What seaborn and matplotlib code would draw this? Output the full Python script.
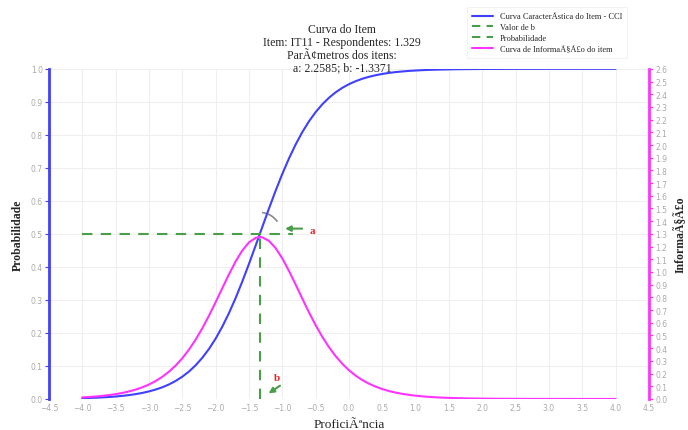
import numpy as np
import pandas as pd
import matplotlib
matplotlib.use("Agg")
import matplotlib.pyplot as plt
import seaborn as sns
from matplotlib.patches import Arc
from matplotlib.lines import Line2D

# item parameters shown in the title
a_param = 2.2585
b_param = -1.3371

# proficiency grid and values
theta = [-4.0, -3.9, -3.8, -3.7, -3.6, -3.5, -3.4, -3.3, -3.2, -3.1,
         -3.0, -2.9, -2.8, -2.7, -2.6, -2.5, -2.4, -2.3, -2.2, -2.1,
         -2.0, -1.9, -1.8, -1.7, -1.6, -1.5, -1.4, -1.3371, -1.3, -1.2,
         -1.1, -1.0, -0.9, -0.8, -0.7, -0.6, -0.5, -0.4, -0.3, -0.2,
         -0.1, 0.0, 0.1, 0.2, 0.3, 0.4, 0.5, 0.6, 0.7, 0.8,
         0.9, 1.0, 1.1, 1.2, 1.3, 1.4, 1.6, 1.8, 2.0, 2.2,
         2.4, 2.6, 2.8, 3.0, 3.2, 3.4, 3.6, 3.8, 4.0]
prob = [0.0024, 0.0031, 0.0038, 0.0048, 0.0060, 0.0075, 0.0094, 0.0117, 0.0147, 0.0183,
        0.0229, 0.0285, 0.0354, 0.0440, 0.0546, 0.0675, 0.0831, 0.1021, 0.1247, 0.1515,
        0.1828, 0.2190, 0.2601, 0.3058, 0.3558, 0.4091, 0.4645, 0.5000, 0.5209, 0.5768,
        0.6308, 0.6816, 0.7285, 0.7708, 0.8083, 0.8409, 0.8688, 0.8925, 0.9123, 0.9288,
        0.9424, 0.9535, 0.9625, 0.9699, 0.9758, 0.9806, 0.9845, 0.9876, 0.9901, 0.9920,
        0.9937, 0.9949, 0.9960, 0.9968, 0.9974, 0.9979, 0.9987, 0.9992, 0.9995, 0.9997,
        0.9998, 0.9999, 0.9999, 1.0, 1.0, 1.0, 1.0, 1.0, 1.0]
info = [0.0124, 0.0155, 0.0194, 0.0243, 0.0304, 0.0380, 0.0474, 0.0592, 0.0737, 0.0917,
        0.1139, 0.1411, 0.1744, 0.2147, 0.2631, 0.3209, 0.3887, 0.4674, 0.5568, 0.6556,
        0.7620, 0.8725, 0.9816, 1.0829, 1.1691, 1.2330, 1.2688, 1.2752, 1.2730, 1.2451,
        1.1880, 1.1070, 1.0088, 0.9012, 0.7904, 0.6824, 0.5813, 0.4894, 0.4080, 0.3373,
        0.2770, 0.2262, 0.1840, 0.1489, 0.1204, 0.0970, 0.0780, 0.0625, 0.0502, 0.0402,
        0.0322, 0.0259, 0.0206, 0.0165, 0.0131, 0.0105, 0.0067, 0.0043, 0.0027, 0.0017,
        0.0011, 0.0007, 0.0004, 0.0003, 0.0002, 0.0001, 0.0001, 0.0, 0.0]

df = pd.DataFrame({"theta": theta, "prob": prob, "info": info})

blue = "#4040ff"
magenta = "#ff33ff"
green = "#4a9e4a"
tick_grey = "#aaaaaa"
serif = "Liberation Serif"

sns.set_style("whitegrid", {"grid.color": "#efefef"})
plt.rcParams["font.family"] = ["DejaVu Sans"]

fig = plt.figure(figsize=(6.88, 4.31), dpi=100)
ax = fig.add_axes([0.0712, 0.072, 0.872, 0.766])
ax2 = ax.twinx()

sns.lineplot(data=df, x="theta", y="prob", ax=ax, color=blue, linewidth=1.5)
sns.lineplot(data=df, x="theta", y="info", ax=ax2, color=magenta, linewidth=1.5)

# reference lines for b and probability 0.5
ax.plot([-4.0, b_param + 0.5], [0.5, 0.5], color=green, linestyle=(0, (5, 4)), linewidth=1.5)
ax.plot([b_param, b_param], [0.0, 0.5], color=green, linestyle=(0, (5, 4)), linewidth=1.5)

# angle arc and labels
ax.add_patch(Arc((b_param, 0.5), 0.64, 0.13, theta1=8, theta2=62, color="#888888", linewidth=1.2))
ax.annotate("", xy=(-1.0, 0.516), xytext=(-0.66, 0.516),
            arrowprops=dict(arrowstyle="-|>", color=green, lw=1.5, mutation_scale=8))
ax.text(-0.59, 0.511, "a", color="#ee2222", fontsize=8, fontweight="bold", family=serif, va="center")
ax.annotate("", xy=(-1.24, 0.012), xytext=(-1.0, 0.045),
            arrowprops=dict(arrowstyle="-|>", color=green, lw=1.5, mutation_scale=8))
ax.text(-1.08, 0.065, "b", color="#ee2222", fontsize=8, fontweight="bold", family=serif, ha="center", va="center")

ax.set_xlim(-4.5, 4.5)
ax.set_ylim(0, 1)
ax2.set_ylim(0, 2.6)
ax.set_xticks(np.arange(-4.5, 4.51, 0.5))
ax.set_yticks(np.arange(0, 1.01, 0.1))
ax2.set_yticks(np.arange(0, 2.61, 0.1))
ax.set_xticklabels([f"{v:.1f}".replace("-", "\u2212") for v in np.arange(-4.5, 4.51, 0.5)])
ax.set_yticklabels([f"{v:.1f}" for v in np.arange(0, 1.01, 0.1)])
ax2.set_yticklabels([f"{v:.1f}" for v in np.arange(0, 2.61, 0.1)])
ax2.grid(False)

for spine in ["top", "bottom", "right"]:
    ax.spines[spine].set_visible(False)
for spine in ["top", "bottom", "left"]:
    ax2.spines[spine].set_visible(False)
ax.spines["left"].set_color(blue)
ax.spines["left"].set_linewidth(2)
ax2.spines["right"].set_color(magenta)
ax2.spines["right"].set_linewidth(2)

ax.tick_params(axis="x", length=0, labelsize=5.5, labelcolor=tick_grey, pad=3)
ax.tick_params(axis="y", length=3, width=0.8, color=blue, labelsize=5.5, labelcolor=tick_grey, pad=1.5, left=True)
ax2.tick_params(axis="y", length=3, width=0.8, color=magenta, labelsize=5.5, labelcolor=tick_grey, pad=1.5, right=True)

ax.set_xlabel("ProficiÃªncia", family=serif, fontsize=9.5, labelpad=4)
ax.set_ylabel("Probabilidade", family=serif, fontsize=8.5, fontweight="bold", labelpad=5)
ax2.set_ylabel("InformaÃ§Ã£o", family=serif, fontsize=8.5, fontweight="bold", labelpad=5)

fig.text(0.497, 0.828, "Curva do Item\nItem: IT11 - Respondentes: 1.329\nParÃ¢metros dos itens:\na: 2.2585; b: -1.3371",
         ha="center", va="bottom", family=serif, fontsize=8.5, linespacing=1.07)

handles = [Line2D([], [], color=blue, linewidth=1.5),
           Line2D([], [], color=green, linewidth=1.5, linestyle=(0, (4, 3))),
           Line2D([], [], color=green, linewidth=1.5, linestyle=(0, (4, 3))),
           Line2D([], [], color=magenta, linewidth=1.5)]
labels = ["Curva CaracterÃstica do Item - CCI", "Valor de b", "Probabilidade",
          "Curva de InformaÃ§Ã£o do item"]
leg = fig.legend(handles, labels, loc="upper right", bbox_to_anchor=(0.918, 0.99),
                 prop={"family": serif, "size": 6}, frameon=True, fancybox=False,
                 handlelength=2.6, labelspacing=0.35, borderpad=0.6)
leg.get_frame().set_edgecolor("#f0f0f0")
leg.get_frame().set_linewidth(0.8)

fig.savefig("out.png", dpi=100)
